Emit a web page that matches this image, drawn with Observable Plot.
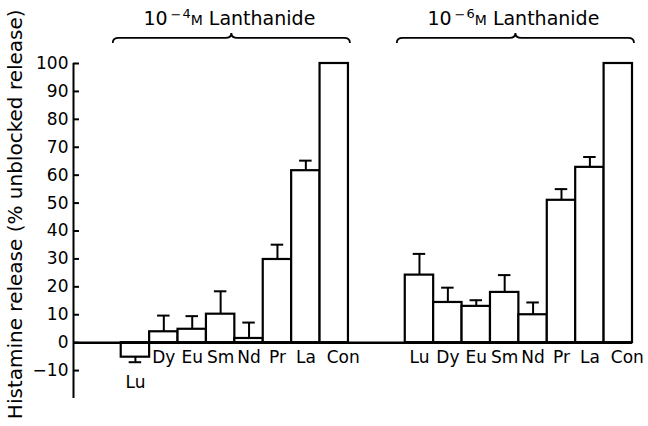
<!DOCTYPE html>
<html><head><meta charset="utf-8">
<script src="https://cdn.jsdelivr.net/npm/d3@7"></script>
<script src="https://cdn.jsdelivr.net/npm/@observablehq/plot@0.6"></script>
<style>body{margin:0;background:#fff} svg{font-family:"DejaVu Sans"}</style>
</head><body><div id="chart"></div>
<script>
// ---- data ----
const elements = ["Lu", "Dy", "Eu", "Sm", "Nd", "Pr", "La", "Con"];
const groupExponents = ["4", "6"]; // 10^-4 M and 10^-6 M lanthanide
const groupTitleText = "Lanthanide";
// 10^-4 M lanthanide: mean release and end of error bar
const release4 = [-5.2, 3.9, 4.8, 10.2, 1.5, 29.8, 61.6, 100];
const errEnd4  = [-7.0, 9.7, 9.5, 18.4, 7.2, 35.1, 65.2, null];
// 10^-6 M lanthanide
const release6 = [24.2, 14.4, 13.0, 18.0, 10.0, 51.0, 62.8, 100];
const errEnd6  = [31.8, 19.7, 15.2, 24.2, 14.4, 55.0, 66.5, null];
const yTicks = [-10, 0, 10, 20, 30, 40, 50, 60, 70, 80, 90, 100];
const yLabel = "Histamine release (% unblocked release)";

// ---- build table ----
const groupSlots = 10; // 8 bars + 2 empty slots between groups
const rows = [];
[[release4, errEnd4], [release6, errEnd6]].forEach(([vals, errs], g) => {
  elements.forEach((el, i) => {
    const x1 = g * groupSlots + i;
    rows.push({group: g, element: el, value: vals[i], err: errs[i], x1, x2: x1 + 1, xc: x1 + 0.5});
  });
});
const groups = groupExponents.map((e, g) => {
  const start = g * groupSlots, end = start + elements.length;
  return {exp: e, x1: start - 0.28, x2: end + 0.07};
});
const errRows = rows.filter(d => d.err != null);
const xMin = -1.68, xMax = 18;

function braces(index, scales) {
  const g = d3.create("svg:g");
  for (const b of groups) {
    const x1 = scales.x(b.x1), x2 = scales.x(b.x2), xc = (x1 + x2) / 2, y = scales.y(109);
    const r = 6;
    g.append("path").attr("fill", "none").attr("stroke", "black").attr("stroke-width", 1.8).attr("d",
      `M${x1},${y + 5} Q${x1},${y} ${x1 + r},${y} L${xc - r},${y} Q${xc},${y} ${xc},${y - 5} ` +
      `Q${xc},${y} ${xc + r},${y} L${x2 - r},${y} Q${x2},${y} ${x2},${y + 5}`);
    const t = g.append("text").attr("x", xc - 2).attr("y", scales.y(113.5))
      .attr("text-anchor", "middle").attr("font-size", 19).attr("fill", "black");
    t.append("tspan").text("10");
    t.append("tspan").attr("dx", 3).attr("dy", -6).attr("font-size", 13).text("\u2212");
    t.append("tspan").attr("dx", 1).attr("dy", -1).attr("font-size", 13).text(b.exp);
    t.append("tspan").attr("dy", 7).attr("font-size", 14).text("M");
    t.append("tspan").attr("dx", 6).text(groupTitleText);
  }
  return g.node();
}

const chart = Plot.plot({
  width: 648, height: 426,
  marginLeft: 73, marginRight: 16, marginTop: 63, marginBottom: 28,
  x: {domain: [xMin, xMax], axis: null},
  y: {domain: [-20, 100], axis: null},
  style: {fontFamily: "DejaVu Sans", color: "black", background: "white", overflow: "visible"},
  marks: [
    Plot.rect(rows, {x1: "x1", x2: "x2", y1: 0, y2: "value", fill: "white", stroke: "black", strokeWidth: 2.2}),
    Plot.ruleX(errRows, {x: "xc", y1: "value", y2: "err", strokeWidth: 2}),
    Plot.ruleY(errRows, {y: "err", x1: d => d.xc - 0.22, x2: d => d.xc + 0.22, strokeWidth: 2}),
    Plot.ruleY([0], {x1: xMin, x2: xMax, strokeWidth: 2.5}),
    Plot.ruleX([xMin], {y1: -20, y2: 100, strokeWidth: 2}),
    Plot.axisY({ticks: yTicks, tickSize: -6, tickPadding: 11, strokeWidth: 2, fontSize: 17, label: null, tickFormat: d => d < 0 ? "\u2212" + Math.abs(d) : String(d)}),
    Plot.text(rows.filter(d => d.value >= 0 && d.element !== "Con"), {x: "xc", y: 0, dy: 15, text: "element", fontSize: 17}),
    Plot.text(rows.filter(d => d.element === "Con"), {x: "xc", y: 0, dy: 15, dx: 9, text: "element", fontSize: 17}),
    Plot.text(rows.filter(d => d.value < 0), {x: "xc", y: "err", dy: 20, text: "element", fontSize: 17}),
    braces,
    Plot.text([yLabel], {x: xMin, y: 46, dx: -58, rotate: -90, fontSize: 20})
  ]
});
document.getElementById("chart").append(chart);
</script></body></html>
